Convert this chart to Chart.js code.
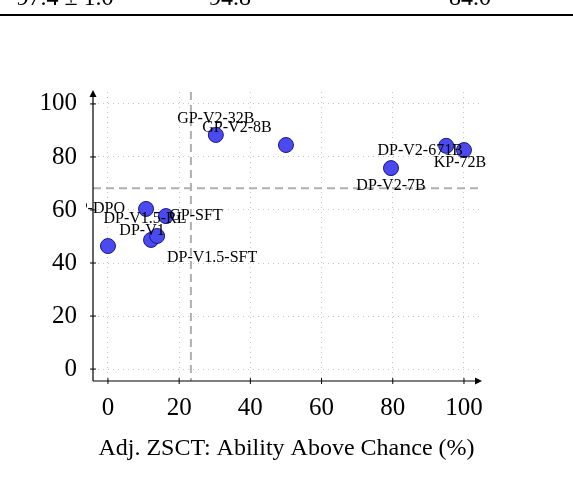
<!DOCTYPE html>
<html>
<head>
<meta charset="utf-8">
<script src="https://cdn.jsdelivr.net/npm/chart.js@4.4.0/dist/chart.umd.min.js"></script>
<style>
  html, body { margin: 0; padding: 0; background: #fff; }
  #wrap { width: 573px; height: 487px; }
</style>
</head>
<body>
<div id="wrap"><canvas id="c" width="573" height="487"></canvas></div>
<script>
// data
const xValues = [0, 10.7, 16.3, 12.1, 13.8, 30.3, 50.0, 79.5, 95.0, 100.0];
const yValues = [46.4, 60.4, 57.7, 48.7, 50.2, 88.3, 84.5, 75.8, 84.2, 82.6];
const modelNames = ['', 'DP-DPO', 'GP-SFT', 'DP-V1', 'DP-V1.5-SFT', 'GP-V2-32B', 'GP-V2-8B', 'DP-V2-7B', 'DP-V2-671B', 'KP-72B'];
const xTicks = [0, 20, 40, 60, 80, 100];
const yTicks = [0, 20, 40, 60, 80, 100];
const chanceX = 23.3;
const chanceY = 68.2;
const tableRow = ['97.4 \u00b1 1.0', '94.8', '84.0'];

// label offsets in px from the point (style, not data)
const labelOffsets = [null, [-50, 0], [30, 0], [-9, -9], [55, 22], [0, -16], [-49, -17], [0, 18], [-26, 5], [-4, 13]];
const extraLabels = [{ text: 'DP-V1.5-RL', point: 2, dx: -21, dy: 3 }];

const serif = '"Liberation Serif", "DejaVu Serif", serif';

const overlay = {
  id: 'overlay',
  beforeDatasetsDraw(chart) {
    const { ctx, chartArea: a, scales: { x, y } } = chart;
    ctx.save();
    ctx.strokeStyle = '#b0b0b0';
    ctx.lineWidth = 2;
    ctx.setLineDash([8, 5]);
    const px = x.getPixelForValue(chanceX);
    const py = y.getPixelForValue(chanceY);
    ctx.beginPath();
    ctx.moveTo(px, a.top); ctx.lineTo(px, a.bottom);
    ctx.moveTo(a.left, py); ctx.lineTo(a.right, py);
    ctx.stroke();
    ctx.restore();
  },
  afterDatasetsDraw(chart) {
    const { ctx, chartArea: a, scales: { x, y } } = chart;
    ctx.save();
    ctx.font = '16px ' + serif;
    ctx.fillStyle = '#000';
    ctx.textAlign = 'center';
    ctx.textBaseline = 'middle';
    ctx.beginPath();
    ctx.rect(86, 0, 573, 487);
    ctx.clip();
    const all = modelNames.map((t, i) => labelOffsets[i] ? { text: t, point: i, dx: labelOffsets[i][0], dy: labelOffsets[i][1] } : null)
      .filter(Boolean).concat(extraLabels);
    all.forEach(l => {
      ctx.fillText(l.text, x.getPixelForValue(xValues[l.point]) + l.dx, y.getPixelForValue(yValues[l.point]) + l.dy);
    });
    ctx.restore();

    // axes with arrows
    ctx.save();
    ctx.strokeStyle = '#000';
    ctx.fillStyle = '#000';
    ctx.lineWidth = 1.2;
    ctx.beginPath();
    ctx.moveTo(a.left, a.bottom); ctx.lineTo(a.right, a.bottom);
    ctx.moveTo(a.left, a.bottom); ctx.lineTo(a.left, a.top);
    ctx.stroke();
    ctx.beginPath();
    ctx.moveTo(a.right + 2, a.bottom); ctx.lineTo(a.right - 5, a.bottom - 3.5); ctx.lineTo(a.right - 5, a.bottom + 3.5); ctx.fill();
    ctx.beginPath();
    ctx.moveTo(a.left, a.top - 2); ctx.lineTo(a.left - 3.5, a.top + 5); ctx.lineTo(a.left + 3.5, a.top + 5); ctx.fill();
    ctx.lineWidth = 1;
    xTicks.forEach(v => { const p = x.getPixelForValue(v); ctx.beginPath(); ctx.moveTo(p, a.bottom - 3); ctx.lineTo(p, a.bottom + 3); ctx.stroke(); });
    yTicks.forEach(v => { const p = y.getPixelForValue(v); ctx.beginPath(); ctx.moveTo(a.left - 3, p); ctx.lineTo(a.left + 3, p); ctx.stroke(); });

    // cut-off table from above
    ctx.lineWidth = 2;
    ctx.beginPath(); ctx.moveTo(0, 15); ctx.lineTo(573, 15); ctx.stroke();
    ctx.font = '24px ' + serif;
    ctx.textAlign = 'center';
    ctx.textBaseline = 'alphabetic';
    [65, 230, 470].forEach((cx, i) => ctx.fillText(tableRow[i], cx, 5));
    ctx.restore();
  }
};

new Chart(document.getElementById('c'), {
  type: 'scatter',
  data: {
    datasets: [{
      data: xValues.map((v, i) => ({ x: v, y: yValues[i] })),
      backgroundColor: '#4a4af0',
      borderColor: '#1a1a80',
      borderWidth: 1,
      pointRadius: 7.5,
      pointHoverRadius: 7.5
    }]
  },
  options: {
    responsive: false,
    animation: false,
    layout: { padding: { top: 92, right: 93, left: 0, bottom: 24 } },
    plugins: { legend: { display: false }, tooltip: { enabled: false } },
    scales: {
      x: {
        type: 'linear', min: -4.2, max: 104.5,
        afterBuildTicks: s => { s.ticks = xTicks.map(v => ({ value: v })); },
        afterFit: s => { s.height = 82; },
        grid: { color: '#c8c8c8', lineWidth: 1, drawTicks: false },
        border: { display: false, dash: [1, 4] },
        ticks: { color: '#000', font: { family: serif, size: 25 }, padding: 12, maxRotation: 0 },
        title: { display: true, text: 'Adj. ZSCT: Ability Above Chance (%)', color: '#000', font: { family: serif, size: 24 }, padding: { top: 8, bottom: 0 } }
      },
      y: {
        type: 'linear', min: -4.5, max: 104.5,
        afterBuildTicks: s => { s.ticks = yTicks.map(v => ({ value: v })); },
        afterFit: s => { s.width = 93; },
        grid: { color: '#c8c8c8', lineWidth: 1, drawTicks: false },
        border: { display: false, dash: [1, 4] },
        ticks: { color: '#000', font: { family: serif, size: 25 }, padding: 16 }
      }
    }
  },
  plugins: [overlay]
});
</script>
</body>
</html>
